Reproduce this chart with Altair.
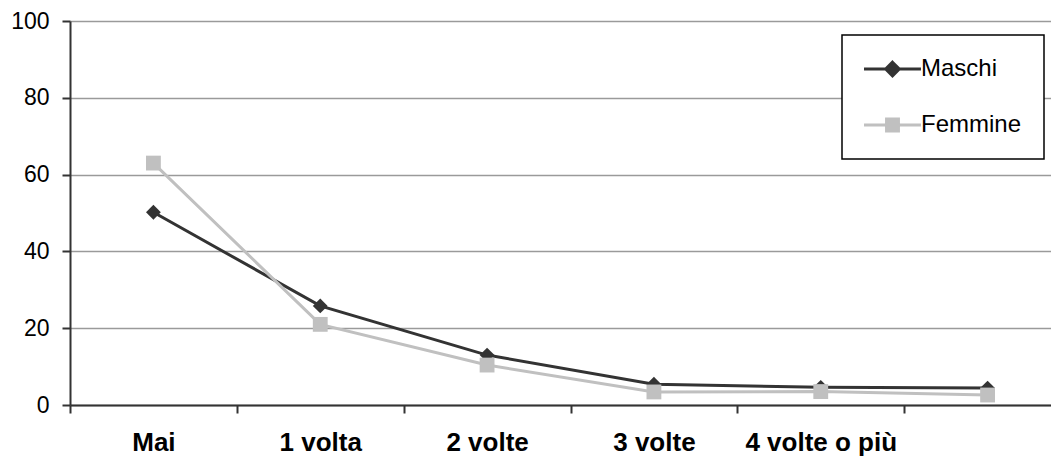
import altair as alt
import pandas as pd

# ---- data ----
categories = ["Mai", "1 volta", "2 volte", "3 volte", "4 volte o più", ""]
maschi = [50.2, 25.8, 13.0, 5.4, 4.6, 4.4]
femmine = [63.0, 21.0, 10.4, 3.4, 3.5, 2.6]
series_names = ["Maschi", "Femmine"]
series_colors = ["#333333", "#c0c0c0"]
series_markers = ["diamond", "square"]
y_ticks = [0, 20, 40, 60, 80, 100]

rows = []
for name, vals in zip(series_names, [maschi, femmine]):
    for c, v in zip(categories, vals):
        rows.append({"cat": c, "series": name, "value": v})
df = pd.DataFrame(rows)

FONT = "Liberation Sans"

# legend symbols: line segment + marker (custom SVG paths)
leg_paths = [
    "M-1.41,0L5.29,0M1.94,-0.8L2.74,0L1.94,0.8L1.14,0Z",
    "M-1.41,0L5.29,0M1.24,-0.7L2.64,-0.7L2.64,0.7L1.24,0.7Z",
]

color_scale = alt.Scale(domain=series_names, range=series_colors)

x_enc = alt.X(
    "cat:N",
    sort=categories,
    scale=alt.Scale(domain=categories, range=[0, 1001], paddingInner=0, paddingOuter=0),
    axis=alt.Axis(
        title=None, labelAngle=0, tickBand="extent", grid=False,
        labelFont=FONT, labelFontSize=26, labelFontWeight="bold", labelColor="#000",
        labelPadding=16, tickSize=8, tickColor="#333", tickWidth=2,
        domainColor="#333", domainWidth=2,
    ),
)
y_enc = alt.Y(
    "value:Q",
    scale=alt.Scale(domain=[0, 100], nice=False),
    axis=alt.Axis(
        title=None, values=y_ticks, grid=True, gridColor="#9a9a9a", gridWidth=1.5,
        labelFont=FONT, labelFontSize=23, labelColor="#000", labelPadding=13,
        tickSize=8, tickColor="#333", tickWidth=2, domainColor="#333", domainWidth=2,
    ),
)

layers = []
for name, col, marker in zip(series_names, series_colors, series_markers):
    base = alt.Chart(df).transform_filter(alt.datum.series == name)
    layers.append(base.mark_line(strokeWidth=3, color=col).encode(x=x_enc, y=y_enc))
    layers.append(
        base.mark_point(filled=True, opacity=1, size=220, shape=marker, color=col).encode(
            x=x_enc, y=y_enc
        )
    )

leg = alt.Legend(
    title=None, orient="none", legendX=772, legendY=14, padding=22,
    strokeColor="#000", fillColor="#fff",
    labelFont=FONT, labelFontSize=24, labelColor="#000", labelOffset=33,
    symbolSize=289, symbolStrokeWidth=3, symbolOffset=0, rowPadding=31,
)

legend_layer = alt.Chart(df).transform_filter("false").mark_point(
    filled=True, opacity=1, strokeWidth=3, size=289
).encode(
    x=x_enc, y=y_enc,
    fill=alt.Fill("series:N", scale=color_scale, legend=leg),
    stroke=alt.Stroke("series:N", scale=color_scale, legend=leg),
    shape=alt.Shape("series:N", scale=alt.Scale(domain=series_names, range=leg_paths), legend=leg),
)
layers.append(legend_layer)

chart = alt.layer(*layers).properties(
    width=981, height=384,
    autosize=alt.AutoSizeParams(type="none"),
    padding={"left": 62, "top": 13, "right": 0, "bottom": 52},
).configure_view(stroke=None).configure_legend(strokeWidth=1.5)

chart.save("out.html", embed_options={"renderer": "svg", "actions": False})
